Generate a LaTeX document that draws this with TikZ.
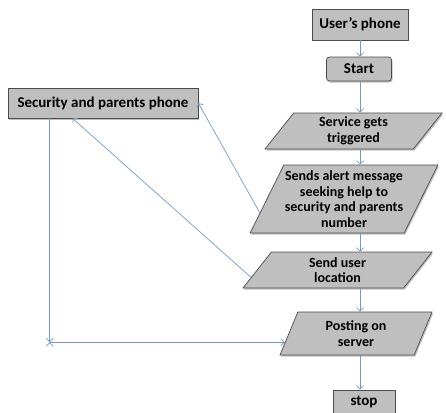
\documentclass[tikz,border=0pt]{standalone}
\usepackage{fontspec}
\setmainfont{Carlito}
\usetikzlibrary{shapes.geometric,arrows.meta,calc,shadows,positioning}

\definecolor{linkblue}{RGB}{118,153,189}
\definecolor{boxgray}{RGB}{191,191,191}

\tikzset{
  box/.style={draw=black!70, fill=boxgray, line width=0.7pt, inner sep=2pt,
    font=\fontsize{15}{17}\selectfont\bfseries,
    drop shadow={shadow xshift=1.2pt, shadow yshift=-1.5pt, opacity=0.5}},
  io/.style 2 args={box, trapezium, trapezium left angle=#1, trapezium right angle=#2,
    trapezium stretches body, align=center, inner sep=1pt,
    font=\fontsize{14}{15.5}\selectfont\bfseries},
  link/.style={draw=linkblue, line width=0.7pt, ->, >={Straight Barb[length=3.5pt,width=7pt]}}
}

\begin{document}
\begin{tikzpicture}[x=1pt, y=-1pt]
  \useasboundingbox (0,0) rectangle (446,412);

  \node[box, minimum width=96, minimum height=31] (user) at (360,24.5) {User's phone};
  \node[box, rounded corners=3pt, minimum width=65, minimum height=24] (start) at (359,69) {Start};
  \node[io={46}{134}, minimum width=177, minimum height=36] (trig) at (353.5,131) {Service gets\\triggered};
  \node[io={60}{120}, minimum width=178, minimum height=68] (alert) at (344,199) {Sends alert message\\seeking help to\\security and parents\\number};
  \node[io={44}{136}, minimum width=189, minimum height=36] (loc) at (337.5,270) {Send user\\location};
  \node[io={57}{123}, minimum width=152, minimum height=43] (post) at (356,333.5) {Posting on\\server};
  \node[box, minimum width=62, minimum height=24] (stop) at (364,402) {stop};
  \node[box, minimum width=190, minimum height=30] (sec) at (103,103) {Security and parents phone};

  % free ends on the slanted sides
  \coordinate (alertout) at ($(alert.bottom left corner)!0.3!(alert.top left corner)$);
  \coordinate (locout) at ($(loc.bottom left corner)!0.3!(loc.top left corner)$);
  \coordinate (postin) at ($(post.bottom left corner)!0.3!(post.top left corner)$);
  \coordinate (secfoot) at ($(sec.south west)!0.22!(sec.south east)$);
  \coordinate (secin) at ($(sec.south west)!0.34!(sec.south east)$);
  \coordinate (bend) at (postin -| secfoot);

  \path[link]
      (user.south -| user) edge (start.north -| user)
      (start.south -| user) edge (trig.north -| user)
      (trig.south -| user) edge (alert.north -| user)
      (alert.south -| user) edge (loc.north -| user)
      (loc.south -| user) edge (post.north -| user)
      (post.south -| user) edge (stop.north -| user)
      (alertout) edge (sec.east)
      (locout) edge (secin)
      (secfoot) edge (bend)
      (bend) edge (postin);
\end{tikzpicture}
\end{document}
